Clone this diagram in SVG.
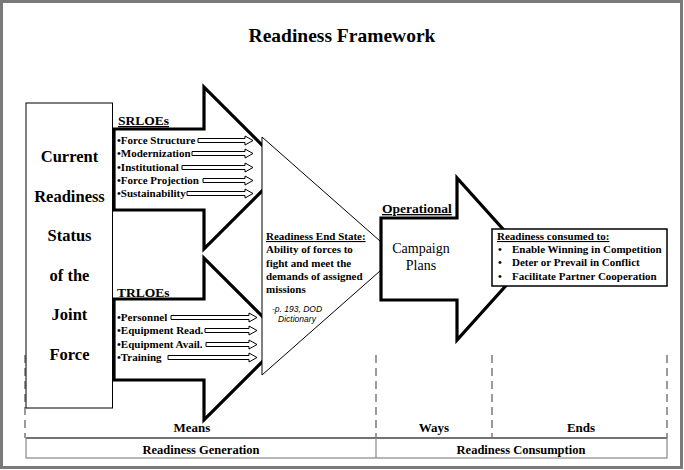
<svg xmlns="http://www.w3.org/2000/svg" width="684" height="470" viewBox="0 0 684 470">
<style>
.t{font-family:"Liberation Serif","Times New Roman",serif;font-weight:bold;fill:#000}
.big{fill:#fff;stroke:#000;stroke-width:3.2;stroke-linejoin:miter}
.sa{fill:#fff;stroke:#000;stroke-width:1}
.it{font-family:"Liberation Serif",serif;font-weight:bold;font-size:11px}
.dash{stroke:#666;stroke-width:1.3;stroke-dasharray:8 5;fill:none}
.tbl{stroke:#888;stroke-width:1.2;fill:none}
</style>
<rect x="0" y="0" width="684" height="470" fill="#fff"/>
<rect x="1.5" y="1.5" width="680" height="466" fill="none" stroke="#7a7a7a" stroke-width="3"/>
<text class="t" x="342" y="42" font-size="19.5" text-anchor="middle">Readiness Framework</text>

<g id="columns">
<line class="dash" x1="25" y1="355" x2="25" y2="438"/>
<line class="dash" x1="376" y1="355" x2="376" y2="438"/>
<line class="dash" x1="492" y1="355" x2="492" y2="438"/>
<line class="dash" x1="667" y1="355" x2="667" y2="438"/>
<text class="t" x="192" y="432" font-size="13" text-anchor="middle">Means</text>
<text class="t" x="434" y="432" font-size="13" text-anchor="middle">Ways</text>
<text class="t" x="581" y="432" font-size="13" text-anchor="middle">Ends</text>
</g>

<g id="phases">
<line x1="26" y1="438" x2="667" y2="438" stroke="#555" stroke-width="2"/>
<rect class="tbl" x="26" y="438" width="641" height="20"/>
<line class="tbl" x1="376" y1="438" x2="376" y2="458"/>
<text class="t" x="201" y="454" font-size="12.5" text-anchor="middle">Readiness Generation</text>
<text class="t" x="521" y="454" font-size="12.5" text-anchor="middle">Readiness Consumption</text>
</g>

<g id="current-readiness">
<rect x="26" y="103" width="86.5" height="305" fill="#fff" stroke="#000" stroke-width="1"/>
<g class="t" font-size="16.5" text-anchor="middle">
<text x="69.5" y="162">Current</text>
<text x="69.5" y="201.5">Readiness</text>
<text x="69.5" y="241">Status</text>
<text x="69.5" y="280.5">of the</text>
<text x="69.5" y="320">Joint</text>
<text x="69.5" y="359.5">Force</text>
</g>
</g>

<g id="srloes">
<polygon class="big" points="114,129 204,129 204,87 285,168 204,249 204,210 114,210"/>
<text class="t" x="118" y="125" font-size="13.5" text-decoration="underline">SRLOEs</text>
<g class="it">
<text x="117" y="144">•Force Structure</text>
<text x="117" y="157">•Modernization</text>
<text x="117" y="171">•Institutional</text>
<text x="117" y="184">•Force Projection</text>
<text x="117" y="197">•Sustainability</text>
</g>
<polygon class="sa" points="198,138.5 245,138.5 245,136 253,140.5 245,145 245,142.5 198,142.5"/>
<polygon class="sa" points="192,151.5 245,151.5 245,149 253,153.5 245,158 245,155.5 192,155.5"/>
<polygon class="sa" points="182,165.5 245,165.5 245,163 253,167.5 245,172 245,169.5 182,169.5"/>
<polygon class="sa" points="203,178.5 245,178.5 245,176 253,180.5 245,185 245,182.5 203,182.5"/>
<polygon class="sa" points="187,191.5 245,191.5 245,189 253,193.5 245,198 245,195.5 187,195.5"/>
</g>

<g id="trloes">
<polygon class="big" points="114,299 204,299 204,258 285,339 204,420 204,380 114,380"/>
<text class="t" x="117" y="297" font-size="13.5" text-decoration="underline">TRLOEs</text>
<g class="it">
<text x="117" y="321">•Personnel</text>
<text x="117" y="334">•Equipment Read.</text>
<text x="117" y="348">•Equipment Avail.</text>
<text x="117" y="361">•Training</text>
</g>
<polygon class="sa" points="171,315.5 249,315.5 249,313 257,317.5 249,322 249,319.5 171,319.5"/>
<polygon class="sa" points="205,328.5 249,328.5 249,326 257,330.5 249,335 249,332.5 205,332.5"/>
<polygon class="sa" points="206,342.5 249,342.5 249,340 257,344.5 249,349 249,346.5 206,346.5"/>
<polygon class="sa" points="168,355.5 249,355.5 249,353 257,357.5 249,362 249,359.5 168,359.5"/>
</g>

<g id="end-state">
<polygon points="262,137 397,256 262,375" fill="#fff" stroke="#000" stroke-width="1"/>
<g class="it">
<text x="266" y="240" text-decoration="underline">Readiness End State:</text>
<text x="266" y="253">Ability of forces to</text>
<text x="266" y="267">fight and meet the</text>
<text x="266" y="280">demands of assigned</text>
<text x="266" y="293">missions</text>
</g>
<g font-family="Liberation Sans,Arial,sans-serif" font-style="italic" font-size="8.5" text-anchor="middle">
<text x="297" y="312">-p. 193, DOD</text>
<text x="297" y="322">Dictionary</text>
</g>
</g>

<g id="operational">
<polygon class="big" stroke-width="3.5" points="381,218 457,218 457,178 530,259 457,340 457,300 381,300"/>
<text class="t" x="382" y="213" font-size="13.5" text-decoration="underline">Operational</text>
<g font-family="Liberation Serif,serif" font-size="14" text-anchor="middle">
<text x="421" y="253">Campaign</text>
<text x="421" y="270">Plans</text>
</g>
</g>

<g id="ends">
<rect x="492" y="229" width="175" height="57" fill="#fff" stroke="#000" stroke-width="1.5"/>
<g class="it">
<text x="497" y="240" text-decoration="underline">Readiness consumed to:</text>
<text x="498" y="253">•</text>
<text x="512" y="253">Enable Winning in Competition</text>
<text x="498" y="266">•</text>
<text x="512" y="266">Deter or Prevail in Conflict</text>
<text x="498" y="280">•</text>
<text x="512" y="280">Facilitate Partner Cooperation</text>
</g>
</g>
<g id="connectors"></g>
</svg>
